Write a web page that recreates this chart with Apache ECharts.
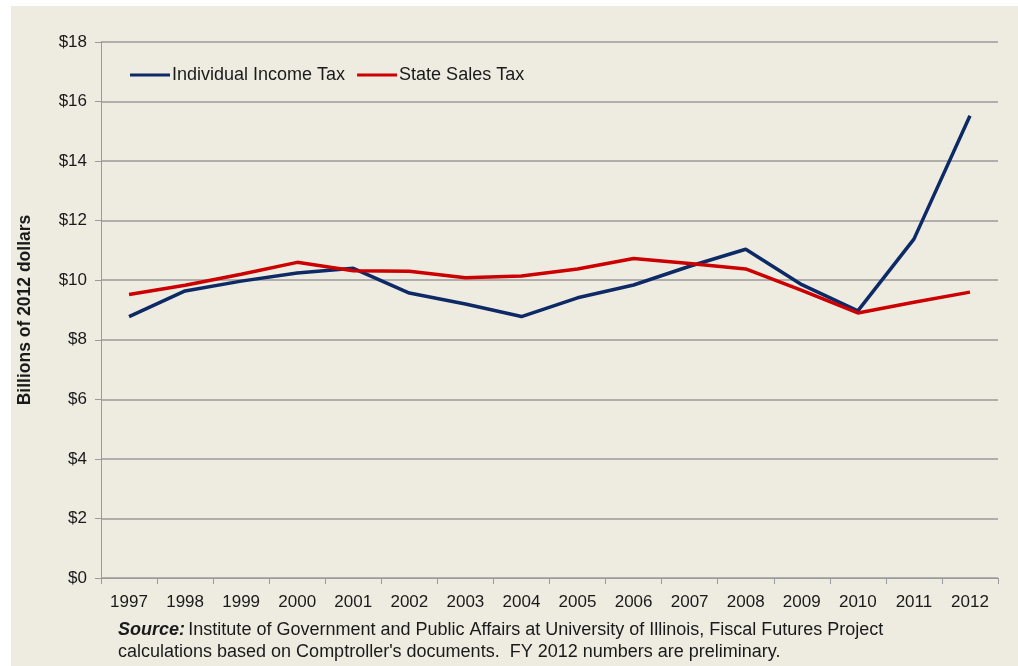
<!DOCTYPE html>
<html>
<head>
<meta charset="utf-8">
<script src="https://cdn.jsdelivr.net/npm/echarts@6/dist/echarts.min.js"></script>
<style>
html,body{margin:0;padding:0;background:#fff;}
#main{width:1018px;height:666px;}
</style>
</head>
<body>
<div id="main"></div>
<script>
const years = ['1997','1998','1999','2000','2001','2002','2003','2004','2005','2006','2007','2008','2009','2010','2011','2012'];
const incomeTax = [8.78, 9.64, 9.97, 10.24, 10.4, 9.57, 9.2, 8.78, 9.41, 9.84, 10.47, 11.04, 9.85, 8.97, 11.38, 15.52];
const salesTax = [9.52, 9.83, 10.2, 10.6, 10.32, 10.3, 10.08, 10.14, 10.38, 10.73, 10.56, 10.38, 9.66, 8.9, 9.26, 9.6];
const seriesNames = ['Individual Income Tax', 'State Sales Tax'];
const yTicks = [0, 2, 4, 6, 8, 10, 12, 14, 16, 18];
const sourceLines = [
    'Institute of Government and Public Affairs at University of Illinois, Fiscal Futures Project',
    'calculations based on Comptroller\'s documents.  FY 2012 numbers are preliminary.'
];

const colorSets = {
    bg: '#eeebe1',
    text: '#1a1a1a',
    line: '#9a9a9a',
    income: '#0d2a66',
    sales: '#cc0000'
};
const sans = '"Liberation Sans", Arial, sans-serif';

const chart = echarts.init(document.getElementById('main'));
chart.setOption({
    backgroundColor: '#ffffff',
    animation: false,
    graphic: [
        {
            type: 'rect',
            z: -10,
            shape: { x: 11, y: 6, width: 1007, height: 660 },
            style: { fill: colorSets.bg }
        },
        {
            type: 'text',
            left: 118,
            top: 621,
            style: {
                rich: {
                    b: { fontFamily: sans, fontSize: 18, fontWeight: 'bold', fontStyle: 'italic', fill: colorSets.text, lineHeight: 22 },
                    n: { fontFamily: sans, fontSize: 18, fill: colorSets.text, lineHeight: 22 }
                },
                text: '{b|Source:} {n|' + sourceLines[0] + '}\n{n|' + sourceLines[1] + '}'
            }
        }
    ],
    grid: {
        left: 101,
        right: 20,
        top: 42,
        bottom: 88
    },
    legend: {
        left: 125,
        top: 61,
        itemWidth: 40,
        itemHeight: 3,
        itemGap: 12,
        icon: 'rect',
        textStyle: { fontFamily: sans, fontSize: 18, color: colorSets.text, padding: [0, 0, 0, -3] },
        data: seriesNames
    },
    xAxis: {
        type: 'category',
        data: years,
        boundaryGap: true,
        axisLine: { show: true, lineStyle: { color: colorSets.line, width: 1 } },
        axisTick: { show: true, length: 6, lineStyle: { color: colorSets.line } },
        axisLabel: { color: colorSets.text, fontFamily: sans, fontSize: 17, margin: 16 }
    },
    yAxis: {
        type: 'value',
        min: yTicks[0],
        max: yTicks[yTicks.length - 1],
        interval: 2,
        name: 'Billions of 2012 dollars',
        nameLocation: 'middle',
        nameGap: 67,
        nameTextStyle: { fontFamily: sans, fontSize: 17.5, fontWeight: 'bold', color: colorSets.text },
        axisLine: { show: true, lineStyle: { color: colorSets.line, width: 1 } },
        axisTick: { show: true, length: 6, lineStyle: { color: colorSets.line } },
        splitLine: { show: true, lineStyle: { color: colorSets.line, width: 1.5 } },
        axisLabel: {
            color: colorSets.text,
            fontFamily: sans,
            fontSize: 17,
            margin: 14,
            formatter: v => '$' + v
        }
    },
    series: [
        {
            name: seriesNames[0],
            type: 'line',
            data: incomeTax,
            symbol: 'none',
            lineStyle: { color: colorSets.income, width: 3.5 },
            itemStyle: { color: colorSets.income }
        },
        {
            name: seriesNames[1],
            type: 'line',
            data: salesTax,
            symbol: 'none',
            lineStyle: { color: colorSets.sales, width: 3.5 },
            itemStyle: { color: colorSets.sales }
        }
    ]
});
</script>
</body>
</html>
